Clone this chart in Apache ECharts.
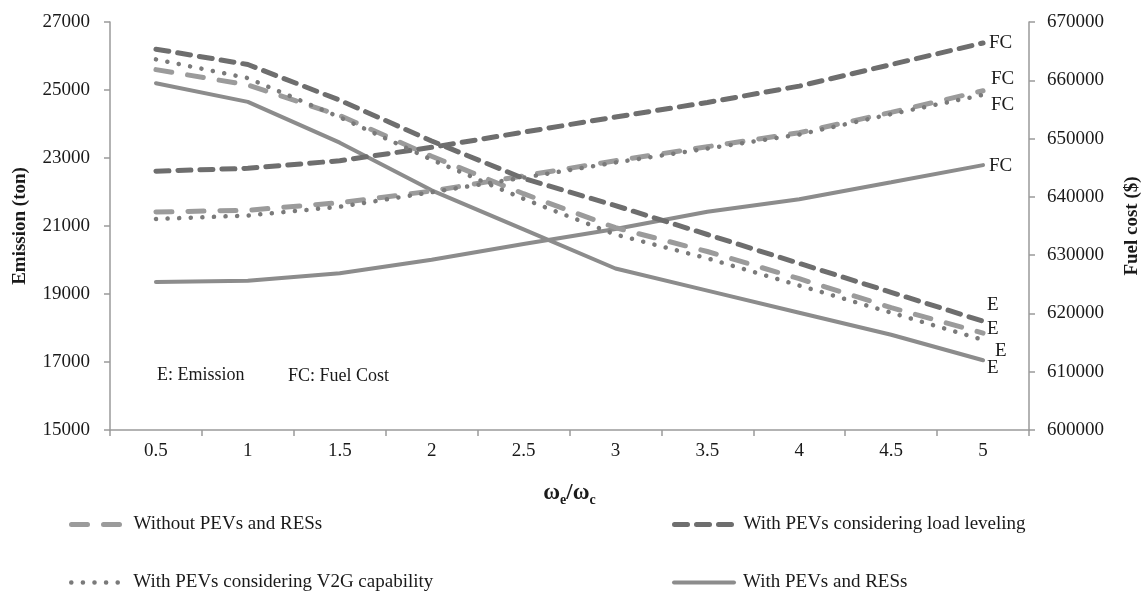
<!DOCTYPE html>
<html>
<head>
<meta charset="utf-8">
<script src="https://cdn.jsdelivr.net/npm/echarts@6/dist/echarts.min.js"></script>
<style>
  html, body { margin: 0; padding: 0; background: #fff; }
  #chart { width: 1145px; height: 592px; }
</style>
</head>
<body>
<div id="chart"></div>
<script>
const ratios = ["0.5", "1", "1.5", "2", "2.5", "3", "3.5", "4", "4.5", "5"];

// emission (ton), left axis
const emissionBase = [25600, 25150, 24250, 23050, 21950, 20950, 20250, 19450, 18600, 17850];
const emissionLoad = [26200, 25750, 24700, 23500, 22400, 21600, 20750, 19900, 19050, 18200];
const emissionV2G = [25900, 25350, 24200, 22950, 21800, 20750, 20050, 19250, 18450, 17650];
const emissionRes = [25200, 24650, 23450, 22050, 20900, 19750, 19100, 18450, 17800, 17050];

// fuel cost ($), right axis
const costBase = [637400, 637700, 639000, 641000, 643600, 646200, 648600, 651000, 654500, 658200];
const costLoad = [644400, 644900, 646200, 648500, 651100, 653700, 656200, 659000, 662700, 666400];
const costV2G = [636200, 636800, 638300, 640800, 643300, 645900, 648300, 650700, 654200, 657500];
const costRes = [625400, 625600, 626900, 629200, 631900, 634500, 637450, 639600, 642500, 645450];

const names = [
  "Without PEVs and RESs",
  "With PEVs considering load leveling",
  "With PEVs considering V2G capability",
  "With PEVs and RESs",
];

const serif = "'Liberation Serif', 'Times New Roman', serif";
const axisGray = "#9a9a9a";
const ink = "#1a1a1a";

const styles = [
  { color: "#9b9b9b", width: 5, type: [16, 16], cap: "round" },
  { color: "#6e6e6e", width: 5, type: [13, 9], cap: "round" },
  { color: "#7a7a7a", width: 4.5, type: [0.1, 11.5], cap: "round" },
  { color: "#8c8c8c", width: 4, type: "solid", cap: "round" },
];

function line(idx, data, yAxisIndex, tag, offset, z) {
  const s = styles[idx];
  return {
    name: names[idx],
    type: "line",
    yAxisIndex,
    data,
    symbol: "none",
    z,
    color: s.color,
    lineStyle: { color: s.color, width: s.width, type: s.type, cap: s.cap },
    endLabel: {
      show: true,
      formatter: tag,
      color: ink,
      fontFamily: serif,
      fontSize: 19,
      distance: 4,
      offset,
    },
    emphasis: { disabled: true },
  };
}

// one legend block per entry, laid out in two columns
function legendItem(idx, left, top, width, pad) {
  const s = styles[idx];
  return {
    data: [names[idx]],
    left,
    top,
    itemWidth: width,
    itemHeight: 18,
    selectedMode: false,
    itemStyle: { opacity: 0, color: "rgba(0,0,0,0)", borderWidth: 0 },
    lineStyle: { width: s.width, type: s.type, color: s.color, cap: s.cap },
    textStyle: { fontFamily: serif, fontSize: 19, color: ink, padding: [0, 0, 0, pad] },
  };
}

const plain = (v) => String(v);

const chart = echarts.init(document.getElementById("chart"), null, { renderer: "canvas" });

chart.setOption({
  animation: false,
  backgroundColor: "#fff",
  textStyle: { fontFamily: serif },
  grid: { left: 110, right: 116, top: 22, bottom: 162, outerBoundsMode: "none" },
  legend: [
    legendItem(0, 64, 510, 56, 1),
    legendItem(2, 64, 568, 56, 1),
    legendItem(1, 667, 510, 60, 4),
    legendItem(3, 667, 568, 60, 4),
  ],
  xAxis: {
    type: "category",
    data: ratios,
    boundaryGap: true,
    name: "{w|ω}{s|e}{w|/ω}{s|c}",
    nameLocation: "middle",
    nameGap: 52,
    nameTextStyle: {
      rich: {
        w: { fontFamily: serif, fontSize: 23, fontWeight: "bold", color: ink, lineHeight: 24, verticalAlign: "top" },
        s: { fontFamily: serif, fontSize: 14, fontWeight: "bold", color: ink, lineHeight: 14, verticalAlign: "top", padding: [11, 0, 0, 0] },
      },
    },
    axisLine: { lineStyle: { color: axisGray, width: 1.5 } },
    axisTick: { show: true, length: 6, lineStyle: { color: axisGray, width: 1.5 } },
    axisLabel: { fontFamily: serif, fontSize: 19, color: ink, margin: 12 },
    splitLine: { show: false },
  },
  yAxis: [
    {
      type: "value",
      min: 15000,
      max: 27000,
      interval: 2000,
      position: "left",
      name: "Emission (ton)",
      nameLocation: "middle",
      nameGap: 80,
      nameTextStyle: { fontFamily: serif, fontSize: 19, fontWeight: "bold", color: ink },
      axisLine: { show: true, lineStyle: { color: axisGray, width: 1.5 } },
      axisTick: { show: true, length: 6, lineStyle: { color: axisGray, width: 1.5 } },
      axisLabel: { fontFamily: serif, fontSize: 19, color: ink, margin: 20, formatter: plain },
      splitLine: { show: false },
    },
    {
      type: "value",
      min: 600000,
      max: 670000,
      interval: 10000,
      position: "right",
      name: "Fuel cost ($)",
      nameLocation: "middle",
      nameGap: 94,
      nameRotate: 90,
      nameTextStyle: { fontFamily: serif, fontSize: 19, fontWeight: "bold", color: ink },
      axisLine: { show: true, lineStyle: { color: axisGray, width: 1.5 } },
      axisTick: { show: true, length: 6, lineStyle: { color: axisGray, width: 1.5 } },
      axisLabel: { fontFamily: serif, fontSize: 19, color: ink, margin: 18, formatter: plain },
      splitLine: { show: false },
    },
  ],
  graphic: [
    { type: "text", left: 157, top: 366, style: { text: "E: Emission", font: "18px " + serif, fill: ink } },
    { type: "text", left: 288, top: 367, style: { text: "FC: Fuel Cost", font: "18px " + serif, fill: ink } },
  ],
  series: [
    line(0, emissionBase, 0, "E", [0, -4], 3),
    line(1, emissionLoad, 0, "E", [0, -16], 4),
    line(2, emissionV2G, 0, "E", [8, 11], 5),
    line(3, emissionRes, 0, "E", [0, 8], 2),
    line(0, costBase, 1, "FC", [4, -12], 3),
    line(1, costLoad, 1, "FC", [2, 0], 4),
    line(2, costV2G, 1, "FC", [4, 10], 5),
    line(3, costRes, 1, "FC", [2, 1], 2),
  ],
});
</script>
</body>
</html>
